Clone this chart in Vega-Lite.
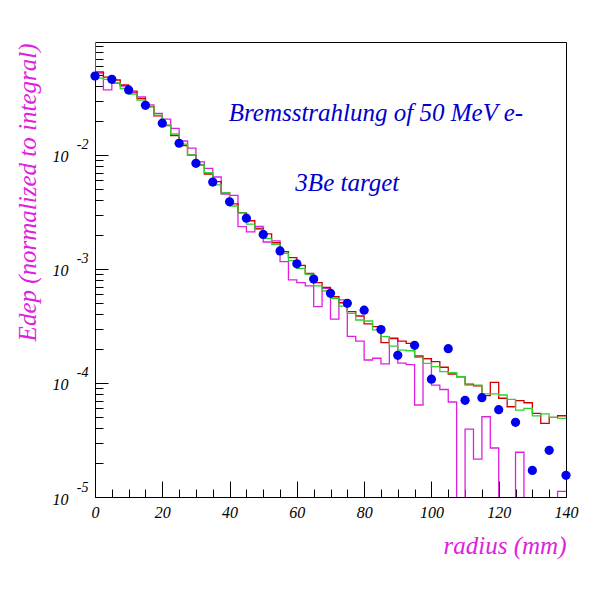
{
  "$schema": "https://vega.github.io/schema/vega-lite/v6.json",
  "width": 471,
  "height": 455,
  "autosize": {"type": "none"},
  "padding": {"left": 95, "top": 42, "right": 34, "bottom": 103},
  "background": "white",
  "config": {
    "view": {"stroke": "black", "strokeWidth": 1},
    "axis": {
      "domainColor": "black", "tickColor": "black", "labelColor": "black", "grid": false,
      "labelFont": "Liberation Serif", "labelFontStyle": "italic",
      "titleFont": "Liberation Serif", "titleFontStyle": "italic", "titleFontWeight": "normal",
      "labelFlush": false, "tickWidth": 1
    }
  },
  "datasets": {
    "red": [
      {"x": 0, "y": 0.0535}, {"x": 2.5, "y": 0.0483}, {"x": 5, "y": 0.0455}, {"x": 7.5, "y": 0.0411},
      {"x": 10, "y": 0.0364}, {"x": 12.5, "y": 0.0313}, {"x": 15, "y": 0.0266}, {"x": 17.5, "y": 0.0220},
      {"x": 20, "y": 0.01815}, {"x": 22.5, "y": 0.01483}, {"x": 25, "y": 0.01211}, {"x": 27.5, "y": 0.0100},
      {"x": 30, "y": 0.00817}, {"x": 32.5, "y": 0.00681}, {"x": 35, "y": 0.00583}, {"x": 37.5, "y": 0.00467},
      {"x": 40, "y": 0.00372}, {"x": 42.5, "y": 0.00312}, {"x": 45, "y": 0.00265}, {"x": 47.5, "y": 0.002275},
      {"x": 50, "y": 0.00203}, {"x": 52.5, "y": 0.00170}, {"x": 55, "y": 0.001419}, {"x": 57.5, "y": 0.001256},
      {"x": 60, "y": 0.001076}, {"x": 62.5, "y": 0.000916}, {"x": 65, "y": 0.000759}, {"x": 67.5, "y": 0.000690},
      {"x": 70, "y": 0.000571}, {"x": 72.5, "y": 0.000506}, {"x": 75, "y": 0.000422}, {"x": 77.5, "y": 0.000387},
      {"x": 80, "y": 0.000330}, {"x": 82.5, "y": 0.000312}, {"x": 85, "y": 0.000226}, {"x": 87.5, "y": 0.000247},
      {"x": 90, "y": 0.000233}, {"x": 92.5, "y": 0.000223}, {"x": 95, "y": 0.0001726}, {"x": 97.5, "y": 0.0001633},
      {"x": 100, "y": 0.0001538}, {"x": 102.5, "y": 0.0001374}, {"x": 105, "y": 0.0001199}, {"x": 107.5, "y": 0.0001135},
      {"x": 110, "y": 0.0000979}, {"x": 112.5, "y": 0.0000946}, {"x": 115, "y": 0.0000774}, {"x": 117.5, "y": 0.0001014},
      {"x": 120, "y": 0.0000735}, {"x": 122.5, "y": 0.0000619}, {"x": 125, "y": 0.0000700}, {"x": 127.5, "y": 0.0000671},
      {"x": 130, "y": 0.0000542}, {"x": 132.5, "y": 0.0000443}, {"x": 135, "y": 0.0000500}, {"x": 137.5, "y": 0.0000516},
      {"x": 140, "y": 0.0000516}
    ],
    "green": [
      {"x": 0, "y": 0.2},
      {"x": 0, "y": 0.0473}, {"x": 2.5, "y": 0.0461}, {"x": 5, "y": 0.0429}, {"x": 7.5, "y": 0.0383},
      {"x": 10, "y": 0.0343}, {"x": 12.5, "y": 0.0303}, {"x": 15, "y": 0.0264}, {"x": 17.5, "y": 0.0224},
      {"x": 20, "y": 0.01832}, {"x": 22.5, "y": 0.01528}, {"x": 25, "y": 0.01247}, {"x": 27.5, "y": 0.0100},
      {"x": 30, "y": 0.00817}, {"x": 32.5, "y": 0.00700}, {"x": 35, "y": 0.00546}, {"x": 37.5, "y": 0.00467},
      {"x": 40, "y": 0.00357}, {"x": 42.5, "y": 0.00310}, {"x": 45, "y": 0.00248}, {"x": 47.5, "y": 0.00223},
      {"x": 50, "y": 0.001858}, {"x": 52.5, "y": 0.001648}, {"x": 55, "y": 0.001374}, {"x": 57.5, "y": 0.001183},
      {"x": 60, "y": 0.001014}, {"x": 62.5, "y": 0.000899}, {"x": 65, "y": 0.000710}, {"x": 67.5, "y": 0.000641},
      {"x": 70, "y": 0.000553}, {"x": 72.5, "y": 0.000473}, {"x": 75, "y": 0.000408}, {"x": 77.5, "y": 0.000357},
      {"x": 80, "y": 0.000350}, {"x": 82.5, "y": 0.000292}, {"x": 85, "y": 0.000255}, {"x": 87.5, "y": 0.000211},
      {"x": 90, "y": 0.0001945}, {"x": 92.5, "y": 0.0001919}, {"x": 95, "y": 0.0001679}, {"x": 97.5, "y": 0.0001489},
      {"x": 100, "y": 0.000139}, {"x": 102.5, "y": 0.0001256}, {"x": 105, "y": 0.000123}, {"x": 107.5, "y": 0.0001135},
      {"x": 110, "y": 0.0000959}, {"x": 112.5, "y": 0.0000959}, {"x": 115, "y": 0.0000802}, {"x": 117.5, "y": 0.0000802},
      {"x": 120, "y": 0.0000785}, {"x": 122.5, "y": 0.0000719}, {"x": 125, "y": 0.0000579}, {"x": 127.5, "y": 0.0000600},
      {"x": 130, "y": 0.0000514}, {"x": 132.5, "y": 0.0000535}, {"x": 135, "y": 0.0000500}, {"x": 137.5, "y": 0.0000490},
      {"x": 140, "y": 0.0000490}
    ],
    "mag": [
      {"x": 0, "y": 0.0524}, {"x": 2.5, "y": 0.0372}, {"x": 5, "y": 0.0426}, {"x": 7.5, "y": 0.0403},
      {"x": 10, "y": 0.0352}, {"x": 12.5, "y": 0.0324}, {"x": 15, "y": 0.0275}, {"x": 17.5, "y": 0.0232},
      {"x": 20, "y": 0.0206}, {"x": 22.5, "y": 0.01714}, {"x": 25, "y": 0.01327}, {"x": 27.5, "y": 0.01151},
      {"x": 30, "y": 0.00869}, {"x": 32.5, "y": 0.00764}, {"x": 35, "y": 0.00641}, {"x": 37.5, "y": 0.00455},
      {"x": 40, "y": 0.00442}, {"x": 42.5, "y": 0.00235}, {"x": 45, "y": 0.00212}, {"x": 47.5, "y": 0.00236},
      {"x": 50, "y": 0.001726}, {"x": 52.5, "y": 0.001762}, {"x": 55, "y": 0.001159}, {"x": 57.5, "y": 0.000802},
      {"x": 60, "y": 0.000759}, {"x": 62.5, "y": 0.000710}, {"x": 65, "y": 0.000467}, {"x": 67.5, "y": 0.000675},
      {"x": 70, "y": 0.000364}, {"x": 72.5, "y": 0.000535}, {"x": 75, "y": 0.000256}, {"x": 77.5, "y": 0.000233},
      {"x": 80, "y": 0.0001592}, {"x": 82.5, "y": 0.0001648}, {"x": 85, "y": 0.0001469}, {"x": 87.5, "y": 0.000245},
      {"x": 90, "y": 0.0001496}, {"x": 92.5, "y": 0.0001449}, {"x": 95, "y": 0.0000641}, {"x": 97.5, "y": 0.0001633},
      {"x": 100, "y": 0.0000959}, {"x": 102.5, "y": 0.0000877}, {"x": 105, "y": 0.0000681}, {"x": 107.5, "y": 0.000001},
      {"x": 110, "y": 0.0000394}, {"x": 112.5, "y": 0.0000215}, {"x": 115, "y": 0.0000506}, {"x": 117.5, "y": 0.0000269},
      {"x": 120, "y": 0.000001}, {"x": 122.5, "y": 0.000001}, {"x": 125, "y": 0.0000247}, {"x": 127.5, "y": 0.000001},
      {"x": 130, "y": 0.000001}, {"x": 132.5, "y": 0.000001}, {"x": 135, "y": 0.000001}, {"x": 137.5, "y": 0.00001122},
      {"x": 140, "y": 0.00001122}
    ],
    "points": [
      {"x": 0, "y": 0.0493}, {"x": 5, "y": 0.0461}, {"x": 10, "y": 0.0372}, {"x": 15, "y": 0.0273},
      {"x": 20, "y": 0.0190}, {"x": 25, "y": 0.01268}, {"x": 30, "y": 0.00845}, {"x": 35, "y": 0.00579},
      {"x": 40, "y": 0.00389}, {"x": 45, "y": 0.00279}, {"x": 50, "y": 0.00201}, {"x": 55, "y": 0.00144},
      {"x": 60, "y": 0.00111}, {"x": 65, "y": 0.000816}, {"x": 70, "y": 0.000612}, {"x": 75, "y": 0.000500},
      {"x": 80, "y": 0.000435}, {"x": 85, "y": 0.000294}, {"x": 90, "y": 0.000175}, {"x": 95, "y": 0.000214},
      {"x": 100, "y": 0.000108}, {"x": 105, "y": 0.000200}, {"x": 110, "y": 0.0000705}, {"x": 115, "y": 0.0000743},
      {"x": 120, "y": 0.0000583}, {"x": 125, "y": 0.0000452}, {"x": 130, "y": 0.0000171}, {"x": 135, "y": 0.0000257},
      {"x": 140, "y": 0.0000155}
    ]
  },
  "layer": [
    {
      "data": {"name": "mag"},
      "mark": {"type": "line", "interpolate": "step-after", "color": "#e020e0", "strokeWidth": 1.3, "clip": true},
      "encoding": {
        "x": {"field": "x", "type": "quantitative",
          "scale": {"domain": [0, 140], "nice": false, "zero": false},
          "axis": {"orient": "bottom", "values": [0, 20, 40, 60, 80, 100, 120, 140], "ticks": false, "tickSize": 0, "domain": false,
            "labelPadding": 7, "labelFontSize": 16, "title": "radius (mm)", "titleColor": "#e020e0",
            "titleFontSize": 25, "titleX": 471, "titleY": 48, "titleAlign": "right", "titleBaseline": "middle"}},
        "y": {"field": "y", "type": "quantitative",
          "scale": {"type": "log", "domain": [0.00001, 0.098], "nice": false},
          "axis": {"orient": "left", "values": [0.00001, 0.0001, 0.001, 0.01], "ticks": false, "tickSize": 0, "domain": false,
            "labelExpr": "'10'", "labelPadding": 27, "labelOffset": 2, "labelFontSize": 16, "labelBaseline": "middle",
            "title": "Edep (normalized to integral)", "titleColor": "#e020e0", "titleFontSize": 25,
            "titleAngle": -90, "titleX": -68, "titleY": 1, "titleAlign": "right", "titleBaseline": "middle"}},
        "order": {"value": null}
      }
    },
    {
      "data": {"name": "red"},
      "mark": {"type": "line", "interpolate": "step-after", "color": "#d00000", "strokeWidth": 1.3, "clip": true},
      "encoding": {
        "x": {"field": "x", "type": "quantitative", "scale": {"domain": [0, 140], "nice": false, "zero": false},
          "axis": {"orient": "top", "offset": -455, "values": [0, 20, 40, 60, 80, 100, 120, 140],
            "tickSize": 16, "labels": false, "domain": false, "title": null}},
        "y": {"field": "y", "type": "quantitative",
          "scale": {"type": "log", "domain": [0.00001, 0.098], "nice": false},
          "axis": {"orient": "left", "values": [0.00001, 0.0001, 0.001, 0.01], "ticks": false, "tickSize": 0, "domain": false,
            "labelExpr": "'' + round(log(datum.value) / LN10)", "labelPadding": 7, "labelOffset": -10,
            "labelFontSize": 14, "labelBaseline": "middle", "title": null}},
        "order": {"value": null}
      }
    },
    {
      "data": {"name": "green"},
      "mark": {"type": "line", "interpolate": "step-after", "color": "#30d030", "strokeWidth": 1.3, "clip": true},
      "encoding": {
        "x": {"field": "x", "type": "quantitative", "scale": {"domain": [0, 140], "nice": false, "zero": false},
          "axis": {"orient": "top", "offset": -455, "values": [5, 10, 15, 25, 30, 35, 45, 50, 55, 65, 70, 75, 85, 90, 95, 105, 110, 115, 125, 130, 135],
            "tickSize": 8, "labels": false, "domain": false, "title": null}},
        "y": {"field": "y", "type": "quantitative",
          "scale": {"type": "log", "domain": [0.00001, 0.098], "nice": false},
          "axis": {"orient": "right", "offset": -471, "values": [0.00001, 0.0001, 0.001, 0.01],
            "tickSize": 13, "labels": false, "domain": false, "title": null}},
        "order": {"value": null}
      }
    },
    {
      "data": {"name": "points"},
      "mark": {"type": "point", "filled": true, "size": 85, "color": "#0000ee", "opacity": 1},
      "encoding": {
        "x": {"field": "x", "type": "quantitative", "scale": {"domain": [0, 140], "nice": false, "zero": false}, "axis": null},
        "y": {"field": "y", "type": "quantitative", "scale": {"type": "log", "domain": [0.00001, 0.098], "nice": false},
          "axis": {"orient": "right", "offset": -471, "values": [0.00002, 0.00003, 0.00004, 0.00005, 0.00006, 0.00007, 0.00008, 0.00009,
            0.0002, 0.0003, 0.0004, 0.0005, 0.0006, 0.0007, 0.0008, 0.0009,
            0.002, 0.003, 0.004, 0.005, 0.006, 0.007, 0.008, 0.009,
            0.02, 0.03, 0.04, 0.05, 0.06, 0.07, 0.08, 0.09],
            "tickSize": 8, "labels": false, "domain": false, "title": null}}
      }
    },
    {
      "data": {"values": [{}]},
      "mark": {"type": "text", "font": "Liberation Serif", "fontStyle": "italic", "fontSize": 25, "color": "#0000cc", "align": "center", "baseline": "middle"},
      "encoding": {
        "x": {"datum": 83.5, "type": "quantitative", "scale": {"domain": [0, 140], "nice": false, "zero": false}, "axis": null},
        "y": {"datum": 0.02333, "type": "quantitative", "scale": {"type": "log", "domain": [0.00001, 0.098], "nice": false}, "axis": null},
        "text": {"value": "Bremsstrahlung of 50 MeV e-"}
      }
    },
    {
      "data": {"values": [{}]},
      "mark": {"type": "text", "font": "Liberation Serif", "fontStyle": "italic", "fontSize": 25, "color": "#0000cc", "align": "center", "baseline": "middle"},
      "encoding": {
        "x": {"datum": 75, "type": "quantitative", "scale": {"domain": [0, 140], "nice": false, "zero": false}, "axis": null},
        "y": {"datum": 0.00568, "type": "quantitative", "scale": {"type": "log", "domain": [0.00001, 0.098], "nice": false}, "axis": null},
        "text": {"value": "3Be target"}
      }
    }
  ],
  "resolve": {"axis": {"x": "independent", "y": "independent"}}
}
